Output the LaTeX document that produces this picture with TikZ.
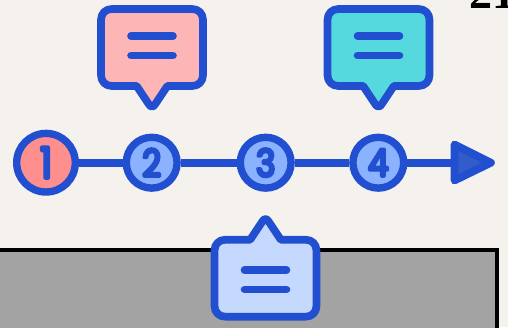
\documentclass[tikz,border=0pt]{standalone}
\usepackage{fontspec}
\setmainfont{Liberation Serif}
\newfontfamily\digitfont[FakeBold=8,FakeStretch=0.86]{Poppins}
\definecolor{bgc}{HTML}{F5F2EE}
\definecolor{bluec}{HTML}{214FD0}
\definecolor{pinkc}{HTML}{FEB5B5}
\definecolor{tealc}{HTML}{55D9DF}
\definecolor{paleblue}{HTML}{C5D8FD}
\definecolor{redc}{HTML}{FF8E8E}
\definecolor{midblue}{HTML}{8AB2FF}
\definecolor{arrowc}{HTML}{305DC8}
\definecolor{greyc}{HTML}{A3A3A3}
\tikzset{
  x=1pt,y=-1pt,
  textbar/.style={draw=bluec,line width=7.6pt,line cap=round},
  stage/.style={circle,draw=bluec,line width=7.4pt,fill=midblue,inner sep=0pt,minimum size=50.8pt},
  first/.style={fill=redc,minimum size=58.6pt},
  digit/.style={text=bluec,font=\digitfont\fontsize{38}{38}\selectfont,inner sep=0pt},
  link/.style={draw=bluec,line width=7.6pt},
  pics/callout/.style={code={
    \draw[draw=bluec,fill=#1,line width=7.7pt,line join=round]
      (-40,-77) -- (40,-77) .. controls (46.5,-77) and (51,-72.5) .. (51,-66)
      -- (51,-11) .. controls (51,-4.5) and (46.5,0) .. (40,0)
      -- (15.3,0) -- (3.3,18) .. controls (1.5,21.5) and (-1.5,21.5) .. (-3.3,18)
      -- (-15.3,0) -- (-40,0) .. controls (-46.5,0) and (-51,-4.5) .. (-51,-11)
      -- (-51,-66) .. controls (-51,-72.5) and (-46.5,-77) .. (-40,-77) -- cycle;
    \draw[textbar] (-21,-49.8) -- (21,-49.8);
    \draw[textbar] (-21,-30.5) -- (21,-30.5);
  }}
}
\newcommand{\rounddigit}[1]{\special{pdf:code 1 j 1 J}#1}
\begin{document}
\begin{tikzpicture}
\useasboundingbox (0,0) rectangle (508,327);
\fill[bgc] (0,0) rectangle (508,327);
\begin{scope}
\clip (0,0) rectangle (508,327);
\node[anchor=base west,inner sep=0pt,font=\bfseries\fontsize{46}{46}\selectfont] (label) at (469,8) {21};
\draw[fill=greyc,draw=black,line width=4pt] (-5,249.7) rectangle (497.3,340);
\end{scope}
% bubbles
\pic at (152,86) {callout=pinkc};
\pic at (378.5,86) {callout=tealc};
\pic[yscale=-1] at (265.5,239.7) {callout=paleblue};
% timeline
\node[stage,first] (s1) at (46,162.7) {};
\node[stage] (s2) at (151.7,162.7) {};
\node[stage] (s3) at (265.7,162.7) {};
\node[stage] (s4) at (378.3,162.7) {};
\coordinate (tip) at (455,162.7);
\draw[link] (s1) -- (s2);
\draw[link] (s2) -- (s3);
\draw[link] (s3) -- (s4);
\draw[link] (s4) -- (tip);
\draw[draw=bluec,fill=arrowc,line width=7.7pt,line join=round] (454.5,144.5) -- (491,162.7) -- (454.5,180.5) -- cycle;
\node[digit,font=\digitfont\fontsize{43}{43}\selectfont] at (s1) {\rounddigit{1}};
\node[digit] at (s2) {\rounddigit{2}};
\node[digit] at (s3) {\rounddigit{3}};
\node[digit] at (s4) {\rounddigit{4}};
\end{tikzpicture}
\end{document}
